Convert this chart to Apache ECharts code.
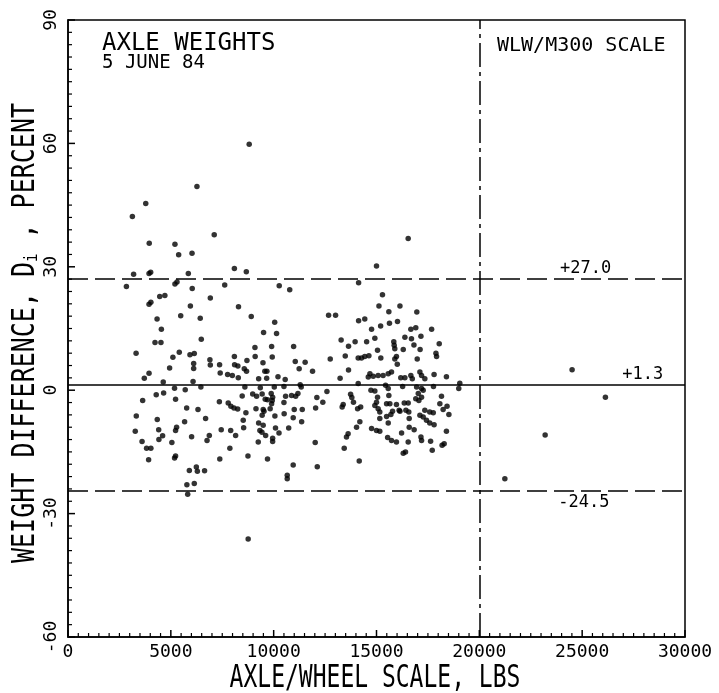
<!DOCTYPE html>
<html><head><meta charset="utf-8">
<script src="https://cdn.jsdelivr.net/npm/echarts@6/dist/echarts.min.js"></script>
<style>html,body{margin:0;padding:0;background:#fff}#c{width:719px;height:693px}</style>
</head><body><div id="c"></div>
<script>
// Axle/wheel scale load, lbs
const axleLbs = [
 8810,6270,3130,3780,3950,5200,5380,6030,7110,3190,2840,3940,4020,5200,5300,5850,6040,7620,8090,8670,
 10270,10780,3940,4030,4460,4710,6920,5950,5480,4330,4540,6430,8290,8910,6480,4230,4520,3310,5410,5100,
 4940,5930,6140,6110,6110,6900,6920,7370,8090,8100,8260,8700,8570,8680,7400,7760,7990,8280,3940,3710,
 4630,6080,9090,9510,10050,10140,9900,9100,9480,9930,9570,9670,9270,9660,10210,10560,10970,11050,11240,11530,
 11890,12670,13010,12750,13280,13640,13960,13480,13640,13230,14130,14130,14110,11290,
 3630,4290,4650,5180,5700,5230,6460,3320,3270,3600,3820,4030,4340,4410,4600,4420,5050,5280,5230,5670,
 5770,6010,6320,6690,6760,6870,7360,7450,7870,7910,8150,7790,7920,8070,8250,8470,8650,8520,8540,8600,
 9170,9350,9590,9700,9880,9950,10030,9900,9830,9140,9530,9440,10060,10510,9270,9490,9330,9430,10090,10730,
 9610,9950,9950,9250,10580,10500,10870,11070,11180,11340,11000,11390,11360,10950,12020,12100,12390,12590,13380,13330,
 13740,13800,13880,14080,14030,13620,13540,13430,10500,8980,9440,12040,10260,9930,9490,
 3920,5230,5180,7380,5900,6240,6290,6640,5780,5820,6140,8750,9700,10660,10660,10950,12120,14160,8760,
 16540,15000,15290,15120,16140,15600,16960,14430,15630,16020,15200,14760,16670,16910,17680,14920,16380,16700,17160,14520,
 15840,15860,15890,16820,18050,15050,16300,17120,17890,17920,14430,14630,14270,14110,15210,15970,15890,16980,
 16010,14680,14600,14840,15080,15320,15570,15730,16180,16670,16740,17110,17190,17350,17800,18400,16380,19050,19000,
 14730,14920,15440,15570,16270,16950,17190,17270,17770,18160,15600,17030,16910,17060,17190,15050,15000,14920,15490,15650,
 15970,16350,16540,18080,18430,18240,14230,15080,15160,15780,16140,16430,16570,17350,17590,17760,17110,17270,15160,15490,
 15700,16100,16590,18520,14190,15570,16590,17430,17590,17800,14760,15000,15160,16220,16830,18400,15540,15730,15970,17160,
 17190,16540,17630,18190,18290,17710,16300,16410,
 24510,26130,23200,21240
];
// Weight difference D_i, percent
const diffPct = [
 59.8,49.5,42.2,45.4,35.7,35.5,32.9,33.3,37.8,28.2,25.2,28.4,28.7,25.8,26.3,28.4,24.7,25.6,29.6,28.8,
 25.4,24.4,20.9,21.4,22.8,23.0,22.4,20.5,18.1,17.3,14.8,17.5,20.3,17.9,12.4,11.6,11.6,9.0,9.2,8.0,
 5.4,8.6,8.9,6.5,5.3,7.4,6.1,6.2,8.2,6.2,5.9,7.2,5.2,4.6,4.2,3.8,3.6,3.0,4.1,2.9,
 2.0,2.1,10.4,14.0,16.5,13.8,10.6,8.2,6.7,8.1,4.6,4.6,2.8,2.9,3.3,2.6,10.6,7.0,5.2,6.8,
 4.6,18.2,18.2,7.6,12.2,10.7,11.8,8.3,4.9,2.9,16.9,26.1,1.6,1.3,
 -2.5,-1.1,-0.7,0.5,0.1,-2.2,0.8,-6.3,-10.0,-12.5,-14.1,-14.1,-7.1,-9.6,-11.1,-12.0,-12.7,-9.0,-9.8,-7.7,
 -4.3,-11.3,-4.7,-6.9,-12.2,-11.0,-2.8,-9.6,-14.1,-9.8,-11.0,-3.1,-3.9,-4.3,-4.6,-1.4,-5.5,-7.3,-9.1,0.8,
 -1.5,0.6,-2.2,-2.3,-0.8,-1.7,0.8,-3.3,-4.5,-4.5,-5.1,-6.1,-6.3,-5.7,-8.0,-8.5,-9.8,-10.2,-9.2,-9.2,
 -11.0,-11.7,-12.5,-12.6,-1.5,-3.0,-1.3,-1.5,-0.8,0.8,-4.7,-4.7,-7.7,-6.7,-12.7,-1.8,-2.9,-0.3,-3.5,-4.1,
 -1.0,-1.8,-2.9,-4.5,-9.0,-10.6,-11.4,-14.1,0.9,-0.9,-0.9,-4.3,-10.4,-2.5,-4.7,
 -16.9,-16.0,-16.5,-16.7,-19.5,-18.7,-19.7,-19.6,-23.0,-25.3,-22.7,-16.0,-16.7,-20.7,-21.5,-18.2,-18.6,-17.2,-36.2,
 36.9,30.2,23.2,20.5,20.5,19.1,19.0,17.3,16.3,16.7,15.6,14.8,14.8,15.2,14.8,12.6,12.9,12.5,13.1,11.8,
 11.8,10.9,10.1,11.0,11.3,9.7,9.9,9.9,9.0,8.2,8.2,8.4,7.8,7.8,7.8,8.2,7.6,7.6,
 6.3,4.0,3.2,3.4,3.6,3.6,4.0,4.4,3.0,3.6,2.8,4.4,3.6,2.8,3.8,3.3,3.0,1.7,0.4,
 0.0,-0.2,1.2,0.4,0.9,0.8,0.4,0.0,0.9,-1.5,-1.3,-0.8,-2.1,-2.5,-1.7,-1.7,-2.9,-3.7,-3.3,-3.3,
 -3.5,-3.1,-3.1,-3.3,-3.9,-4.7,-4.1,-4.5,-5.3,-5.1,-5.1,-4.9,-5.3,-4.9,-5.3,-5.5,-6.1,-6.5,-6.9,-6.4,
 -5.9,-4.9,-6.9,-5.9,-7.7,-8.0,-9.0,-7.3,-8.0,-8.4,-9.3,-9.8,-10.0,-10.4,-9.6,-10.0,-11.5,-12.2,-12.6,-11.4,
 -12.2,-12.6,-12.4,-13.4,-13.0,-14.6,-15.3,-15.0,
 5.0,-1.7,-10.9,-21.5
];
// Reference lines
const limitValues = [27.0, 1.3, -24.5];
const limitLabels = ['+27.0', '+1.3', '-24.5'];
const scaleSplitLbs = 20000;

const X_MIN = 0, X_MAX = 30000, X_MAJOR = 5000, X_MINOR = 500;
const Y_MIN = -60, Y_MAX = 90, Y_MAJOR = 30, Y_MINOR = 3;

const F = "'DejaVu Sans Mono', 'Liberation Mono', monospace";
const chart = echarts.init(document.getElementById('c'), null, {renderer: 'canvas'});
const points = axleLbs.map((x, i) => [x, diffPct[i]]);

const lineBase = {color: '#000', width: 1.5};
const mlData = [
  {yAxis: limitValues[0], lineStyle: Object.assign({}, lineBase, {type: [20, 7]})},
  {yAxis: limitValues[1], lineStyle: Object.assign({}, lineBase, {type: 'solid'})},
  {yAxis: limitValues[2], lineStyle: Object.assign({}, lineBase, {type: [20, 7]})},
  {xAxis: scaleSplitLbs, lineStyle: Object.assign({}, lineBase, {type: [24, 5, 4, 5]})}
];

chart.setOption({
  animation: false,
  grid: {left: 68, right: 34, top: 20, bottom: 56, show: true, borderColor: '#000', borderWidth: 1.5, backgroundColor: 'transparent'},
  xAxis: {
    type: 'value', min: X_MIN, max: X_MAX, interval: X_MAJOR,
    axisLine: {show: true, onZero: false, lineStyle: {color: '#000', width: 1.5}},
    axisTick: {show: false}, splitLine: {show: false},
    axisLabel: {color: '#000', fontFamily: F, fontSize: 18, margin: 6, formatter: v => String(v)}
  },
  yAxis: {
    type: 'value', min: Y_MIN, max: Y_MAX, interval: Y_MAJOR,
    axisLine: {show: true, onZero: false, lineStyle: {color: '#000', width: 1.5}},
    axisTick: {show: false}, splitLine: {show: false},
    axisLabel: {color: '#000', fontFamily: F, fontSize: 18, margin: 8, rotate: 90, formatter: v => String(v)}
  },
  series: [{
    type: 'scatter', data: points, symbol: 'circle', symbolSize: 5.5,
    itemStyle: {color: '#000'}, silent: true,
    markLine: {silent: true, symbol: ['none', 'none'], label: {show: false}, data: mlData, animation: false}
  }]
});

const g = [];
// axis ticks, placed through the axis scales
for (let v = X_MIN; v <= X_MAX; v += X_MINOR) {
  const major = v % X_MAJOR === 0;
  const p = chart.convertToPixel({gridIndex: 0}, [v, Y_MIN]);
  const len = major ? 7 : 4;
  g.push({type: 'line', silent: true, z: 50, shape: {x1: p[0], y1: p[1], x2: p[0], y2: p[1] - len},
    style: {stroke: '#000', lineWidth: major ? 1.5 : 1.2}});
}
for (let v = Y_MIN; v <= Y_MAX; v += Y_MINOR) {
  const major = (v - Y_MIN) % Y_MAJOR === 0;
  const p = chart.convertToPixel({gridIndex: 0}, [X_MIN, v]);
  const len = major ? 7 : 4;
  g.push({type: 'line', silent: true, z: 50, shape: {x1: p[0], y1: p[1], x2: p[0] + len, y2: p[1]},
    style: {stroke: '#000', lineWidth: major ? 1.5 : 1.2}});
}
// annotation texts
const labelAt = [[25170, 11, -1], [27950, 10, -1], [25080, 12, 1]];
limitValues.forEach((v, i) => {
  const p = chart.convertToPixel({gridIndex: 0}, [labelAt[i][0], v]);
  g.push({type: 'text', x: p[0], y: p[1] + labelAt[i][2] * labelAt[i][1], silent: true,
    style: {text: limitLabels[i], fontFamily: F, fontSize: 17, fill: '#000', align: 'center', verticalAlign: 'middle'}});
});
g.push({type: 'text', x: 102, y: 44, style: {text: 'AXLE WEIGHTS', fontFamily: F, fontSize: 24, fill: '#000', align: 'left', verticalAlign: 'middle'}});
g.push({type: 'text', x: 102, y: 63, style: {text: '5 JUNE 84', fontFamily: F, fontSize: 19, fill: '#000', align: 'left', verticalAlign: 'middle'}});
g.push({type: 'text', x: 497, y: 46, style: {text: 'WLW/M300 SCALE', fontFamily: F, fontSize: 20, fill: '#000', align: 'left', verticalAlign: 'middle'}});
g.push({type: 'text', x: 375, y: 679, scaleY: 1.35, style: {text: 'AXLE/WHEEL SCALE, LBS', fontFamily: F, fontSize: 23, fill: '#000', align: 'center', verticalAlign: 'middle'}});
g.push({type: 'text', x: 26, y: 333, rotation: Math.PI / 2, scaleY: 1.25, style: {
  text: '{a|WEIGHT DIFFERENCE, D}{b|i}{a| , PERCENT}', align: 'center', verticalAlign: 'middle',
  rich: {a: {fontFamily: F, fontSize: 25, fill: '#000'}, b: {fontFamily: F, fontSize: 14, fill: '#000', verticalAlign: 'bottom'}}
}});
chart.setOption({graphic: g});
</script></body></html>
